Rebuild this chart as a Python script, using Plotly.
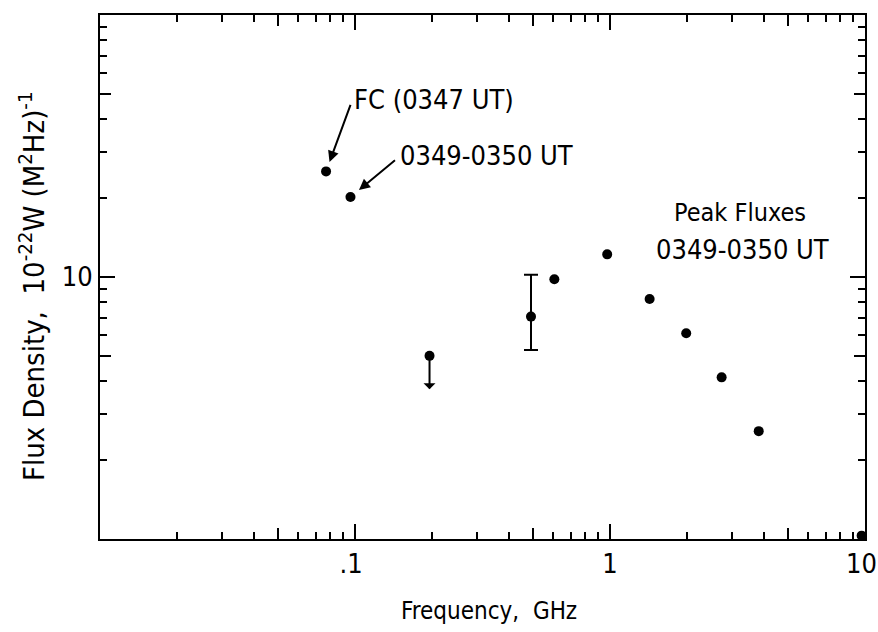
import math
import plotly.graph_objects as go

# ---- data ----
fc_freq = [0.077]          # GHz, FC (0347 UT)
fc_flux = [25.3]
low_freq = [0.096]         # 0349-0350 UT
low_flux = [20.2]
limit_freq = [0.196]       # upper limit
limit_flux = [5.0]
err_freq = [0.49]          # point with error bar
err_flux = [7.06]
err_hi = [10.2]
err_lo = [5.26]
peak_freq = [0.605, 0.975, 1.43, 1.99, 2.74, 3.83, 9.7]
peak_flux = [9.8, 12.2, 8.24, 6.1, 4.14, 2.58, 1.03]

x_tickvals = [0.01, 0.1, 1, 10]
x_ticktext = ["", ".1\u00a0", "1", ""]
x_end_label = "10"          # label for the right-hand end of the x axis
y_tickvals = [1, 10, 100]
y_ticktext = ["", "10", ""]
mid_x = [0.05, 0.5, 5]
mid_y = [5, 50]

FONT = "DejaVu Sans Condensed, DejaVu Sans, sans-serif"
BLACK = "#000000"

x_minor = [d * 10 ** k for k in (-2, -1, 0) for d in (2, 3, 4, 6, 7, 8, 9)]
y_minor = [d * 10 ** k for k in (0, 1) for d in (2, 3, 4, 6, 7, 8, 9)]

marker = dict(color=BLACK, size=10)

fig = go.Figure()
for xs, ys in [(fc_freq, fc_flux), (low_freq, low_flux), (limit_freq, limit_flux), (peak_freq, peak_flux)]:
    fig.add_trace(go.Scatter(x=xs, y=ys, mode="markers", marker=marker,
                             cliponaxis=False, showlegend=False, hoverinfo="x+y"))
fig.add_trace(go.Scatter(
    x=err_freq, y=err_flux, mode="markers", marker=marker, showlegend=False,
    error_y=dict(type="data", symmetric=False,
                 array=[h - v for h, v in zip(err_hi, err_flux)],
                 arrayminus=[v - l for l, v in zip(err_lo, err_flux)],
                 color=BLACK, thickness=2, width=7)))
# dummy trace for overlay axes carrying medium ticks
fig.add_trace(go.Scatter(x=[], y=[], xaxis="x2", yaxis="y2", showlegend=False))

xr = [-2, 1]
yr = [0, 2]
axis_common = dict(type="log", showgrid=False, zeroline=False, color=BLACK,
                   tickfont=dict(family=FONT, size=27, color=BLACK),
                   automargin=False)
fig.update_layout(
    width=878, height=632,
    margin=dict(l=100, r=13, t=15, b=93, autoexpand=False),
    paper_bgcolor="white", plot_bgcolor="white",
    xaxis=dict(**axis_common, range=xr, showline=True, linewidth=2, linecolor=BLACK,
               mirror="ticks", ticks="inside", ticklen=15, tickwidth=2, tickcolor=BLACK,
               tickvals=x_tickvals, ticktext=x_ticktext, ticklabelstandoff=0,
               minor=dict(ticks="inside", ticklen=7, tickwidth=2, tickcolor=BLACK,
                          tickvals=x_minor, showgrid=False)),
    yaxis=dict(**axis_common, range=yr, showline=True, linewidth=2, linecolor=BLACK,
               mirror="ticks", ticks="inside", ticklen=15, tickwidth=2, tickcolor=BLACK,
               tickvals=y_tickvals, ticktext=y_ticktext, ticklabelstandoff=0,
               minor=dict(ticks="inside", ticklen=7, tickwidth=2, tickcolor=BLACK,
                          tickvals=y_minor, showgrid=False)),
    xaxis2=dict(type="log", range=xr, overlaying="x", anchor="y2", side="bottom",
                showgrid=False, zeroline=False, showline=False, mirror="ticks",
                ticks="inside", ticklen=11, tickwidth=2, tickcolor=BLACK,
                tickvals=mid_x, showticklabels=False, automargin=False),
    yaxis2=dict(type="log", range=yr, overlaying="y", anchor="x2", side="left",
                showgrid=False, zeroline=False, showline=False, mirror="ticks",
                ticks="inside", ticklen=11, tickwidth=2, tickcolor=BLACK,
                tickvals=mid_y, showticklabels=False, automargin=False),
)

tfont = dict(family=FONT, size=27, color=BLACK)
L = math.log10
annotations = [
    # end label of x axis
    dict(text=x_end_label, xref="paper", yref="paper", x=0.995, y=-0.047,
         xanchor="center", yanchor="middle", showarrow=False, font=tfont),
    # labels
    dict(text="FC (0347 UT)", xref="paper", yref="paper", x=0.330, y=0.838,
         xanchor="left", yanchor="middle", showarrow=False, font=tfont),
    dict(text="0349-0350 UT", xref="paper", yref="paper", x=0.390, y=0.732,
         xanchor="left", yanchor="middle", showarrow=False, font=tfont),
    dict(text="Peak Fluxes", xref="paper", yref="paper", x=0.837, y=0.624,
         xanchor="center", yanchor="middle", showarrow=False,
         font=dict(family=FONT, size=25, color=BLACK)),
    dict(text="0349-0350 UT", xref="paper", yref="paper", x=0.840, y=0.553,
         xanchor="center", yanchor="middle", showarrow=False, font=tfont),
    # axis titles
    dict(text="Frequency,  GHz", xref="paper", yref="paper", x=0.508, y=-0.137,
         xanchor="center", yanchor="middle", showarrow=False,
         font=dict(family=FONT, size=24, color=BLACK)),
    dict(text="Flux Density,  10<sup>-22</sup>W (M<sup>2</sup>Hz)<sup>-1</sup>",
         xref="paper", yref="paper", x=-0.088, y=0.482, textangle=-90,
         xanchor="center", yanchor="middle", showarrow=False,
         font=dict(family=FONT, size=29, color=BLACK)),
    # arrows to the two low-frequency points
    dict(text="", x=L(fc_freq[0]), y=L(fc_flux[0]), xref="x", yref="y",
         ax=25, ay=-68, showarrow=True, arrowhead=2, arrowsize=1.1, arrowwidth=2,
         arrowcolor=BLACK, standoff=10),
    dict(text="", x=L(low_freq[0]), y=L(low_flux[0]), xref="x", yref="y",
         ax=46, ay=-38, showarrow=True, arrowhead=2, arrowsize=1.1, arrowwidth=2,
         arrowcolor=BLACK, standoff=11),
    # upper-limit arrow
    dict(text="", x=L(limit_freq[0]), y=L(limit_flux[0]), xref="x", yref="y",
         ax=0, ay=35, showarrow=True, arrowhead=2, arrowsize=1.1, arrowwidth=2,
         arrowcolor=BLACK, arrowside="start", standoff=0, startstandoff=0),
]
fig.update_layout(annotations=annotations)

fig.write_html("out.html")
